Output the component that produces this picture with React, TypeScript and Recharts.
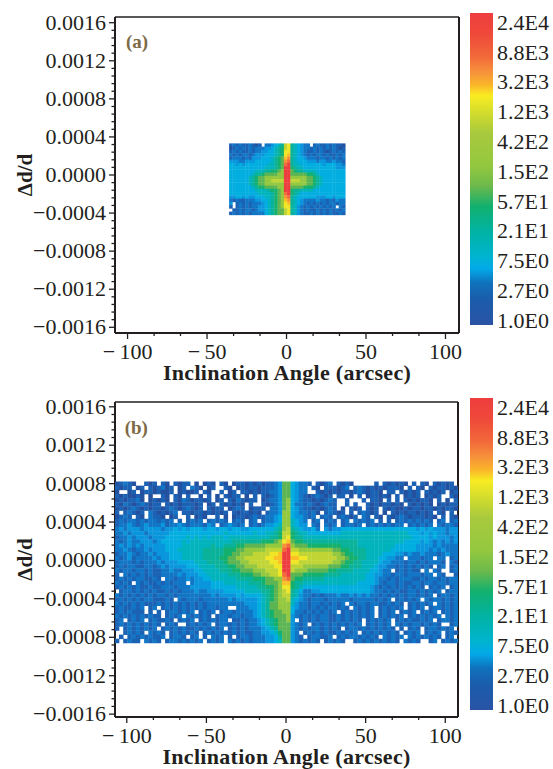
import {
  Bar,
  BarChart,
  ReferenceDot,
  ReferenceLine,
  Scatter,
  ScatterChart,
  XAxis,
  YAxis,
} from "recharts";

const FONT = "'Liberation Serif', serif";
const INK = "#231f20";

// colour per intensity level, 0 = 1.0E0 ... f = 2.4E4
const levelColors = [
  "#23509f", "#1b62b4", "#1276c6", "#0996dc", "#02aee0", "#00b3bc", "#0ab29a", "#14b06e",
  "#5cb552", "#93c83f", "#c0d534", "#f0e626", "#fbc026", "#f6923a", "#f2693a", "#ee3d3e",
];

const scaleOffsets = [0, 0.07, 0.14, 0.19, 0.23, 0.265, 0.31, 0.385, 0.49, 0.555, 0.62, 0.705, 0.78, 0.82, 0.865, 0.92, 1];
const scaleColors = [
  "#ee3d3e", "#ef4a3a", "#f2693a", "#f6923a", "#fab52a", "#f9ec22", "#d9df2b", "#a8c93d", "#93c83f",
  "#6cb94c", "#12b06f", "#00b3a6", "#00b4d0", "#03a9e8", "#0f72bc", "#1b5cab", "#2a53a5",
];
const scaleLabels = ["1.0E0", "2.7E0", "7.5E0", "2.1E1", "5.7E1", "1.5E2", "4.2E2", "1.2E3", "3.2E3", "8.8E3", "2.4E4"];
const scaleTicks = [0, 1, 2, 3, 4, 5, 6, 7, 8, 9, 10];
const scaleBar = [{ name: "scale", span: [-0.17, 10.3] }];

const xMajor = [-100, -50, 0, 50, 100];
const xMinor = [-83.3, -66.7, -33.3, -16.7, 16.7, 33.3, 66.7, 83.3];
const yMajor = [0.0016, 0.0012, 0.0008, 0.0004, 0, -0.0004, -0.0008, -0.0012, -0.0016];
const yMinor = [
  0.00152, 0.00144, 0.00136, 0.00128, 0.00112, 0.00104, 0.00096, 0.00088, 0.00072, 0.00064, 0.00056, 0.00048,
  0.00032, 0.00024, 0.00016, 0.00008, -0.00008, -0.00016, -0.00024, -0.00032, -0.00048, -0.00056, -0.00064, -0.00072,
  -0.00088, -0.00096, -0.00104, -0.00112, -0.00128, -0.00136, -0.00144, -0.00152,
];

// panel (a): 36 columns x 22 rows, top row first, "." = no counts
const panelARows = [
  "1212112101 .223456 ab 654322.121 1212110",
  "0121212122 2334567 ab 6543221212 1212101",
  "1212112122 3344567 bb 6543211212 1012121",
  "2121221233 3444567 bc 6543212122 1211212",
  "1222121333 4445678 cd 6544322212 2121212",
  "3332233344 4445678 de 6544433323 3223221",
  "4434344444 4455678 ef 6554444444 3444332",
  "4444444444 4555678 ff 7655444444 4444333",
  "4444444455 5667789 ff 8766555544 4444444",
  "4444444566 7888899 ff 8888877654 4444444",
  "4444445678 8999999 ff 9999988765 4444444",
  "4444445678 899aaaa ff aaa9988765 4444444",
  "4444445678 8999999 ff 9999988765 4444444",
  "4444444567 7888899 ff 8888777654 4444444",
  "4444444455 5567789 ff 7665555444 4444444",
  "4444444445 5556789 ef 7654444444 4444444",
  "3344343344 4556789 de 6544444433 3443444",
  "2121122233 4456789 cd 6543222232 2121322",
  "3.12121222 3456789 bc 6543212121 2122122",
  "1.12121223 3456789 bb 6532121212 1212.21",
  ".112122123 3456788 ab 6532121121 2121212",
  "1212121222 2456788 ab 6532112121 2121121",
];

// panel (b): 82 columns x 39 rows, top row first, "." = no counts
const panelBRows = [
  "01210..101 .10.1011.0 .010.10.01 1010101123 88 43221.1012 .1010..... 1.101010.1 .10.10101.",
  "1011.01.10 1201.01.21 0.01..10.0 1011011123 88 4322.10.11 1012.12101 0101110.1. 10.1011010",
  "0..01.0110 1001.01001 .10..1.01. 1101011223 88 4322..1010 1011012101 10.11.1010 1.10101.01",
  "1010010.0. .10.10.1.. 0.1.0.1011 .0.1.10123 88 4321012101 .11.0.1.01 1010.1.010 1.0101..10",
  "0101120.01 010.102101 101.01.102 1011.01223 89 4321101012 1..1...1.1 10.1.1.101 0110.1.0.1",
  "1021012101 1.10101110 1.01.10101 0.1..10123 89 4221210121 1..1.1..10 1011010.10 1010.01011",
  "0101210101 1012101210 1.1011.012 1.0111.223 89 4321101012 1.0.101.10 1.10100101 1011010110",
  "1.12101.21 01012.1101 1010101.10 11010.1223 99 4322120.12 101.1.1210 1.0.101011 0101.10.1.",
  "0121.10.21 10.01..1.0 10..1.0.01 1012112234 99 433212.121 .12101.21. 10.1012101 11010.1.10",
  "1212212122 1212.1.121 2.12121.12 1.12.12234 99 5432.12.12 1.12.21212 .1.1.12121 2121.12.12",
  "1223212322 2312232122 2132.12321 2.12123345 99 5433.21.21 2.12212.12 1212122.12 1212.21221",
  "2323332333 3233434344 4344344344 3344444456 9a 6543342.32 3344444444 4444444444 3434333233",
  "2232333233 3334444444 4444445444 4445445567 aa 7655444444 4455555555 5555555544 4343433233",
  "1223233323 3344444545 4545554555 5555555667 ab 7665555555 5555555555 5555555554 4443433323",
  "2123223332 3444445455 5555555566 6666677789 bc 8776666666 6666665555 5555555444 4343232323",
  "2323232333 3344445555 5556556667 7888889999 de 9888777777 7766665555 5555544444 3333232222",
  "2232122323 3344455555 5666667778 899999aaaa ef aa99999999 8877666655 5555444444 3332323222",
  "1223212232 3334445555 5666667788 999aaaabbc ff bbaaaaaaaa 9987766655 5544433232 2322212322",
  "2123122223 2334445555 5666677889 9aaaaabbcc ff ccbbaaaaaa a998776655 5443322.22 2122.22.12",
  "1222121222 3233344445 5566667888 99aaaaabbc ff bbaaaaaaaa 9987766555 5433222122 1212221.21",
  "1212211221 2323333444 5555666778 8999aaaabb ff aaa9999998 8877666555 4332212121 2121.12.12",
  "2122122121 1223223334 4555566677 888999aaab ff a999888887 7666655554 4322.12121 1.2.21..12",
  "1.21212121 1222232333 4455555666 7778899aab ef 8887777766 6655555544 3322122122 2122.21..1",
  "1212122112 1.22122323 3445555556 6667778899 de 8776666655 5555555544 3221212221 1212212122",
  "2121.21211 2121222.23 3334445555 5566678889 cc 7665555555 5555554444 3212212112 2122122122",
  "1212121121 1222122233 3334444445 5555667789 bb 7654444444 4444444443 2121212121 21.1212.12",
  ".122121212 1121212223 2233334444 4555566789 ab 6542233444 4444444443 2212121122 121212.122",
  "2121212121 2212122222 2223233334 3444456789 aa 6532212122 2322323232 2121212122 1212.12212",
  "1212121221 1121.21222 1222222323 3333456789 9a 5432122212 2222122222 1212.12121 2.21221212",
  "2121212111 2121212121 2122222222 2333456889 99 5322122121 212.212212 2112121.12 1212.21212",
  "1211212.12 .121212121 2122122..2 2233456889 99 4322121212 2121.21212 .121212.12 12.1221212",
  "1212111.1. 1.1221212. 1212.12212 2223456788 99 4221212121 2.12121212 .1212.1212 .1212.1212",
  "2121212121 1.1212.212 121.122122 1223456788 89 3212121221 1212121212 .121212.12 121212.212",
  "12.1212.12 1121.1212. 1212122.11 2122345678 89 3.12121221 1212121.12 1212.12121 1212.12212",
  "1212121212 1.121..121 212.122121 2122345678 88 3212.12121 2121212.12 1212.21212 212121..12",
  "1.12121212 .121212112 121212.121 2122234568 88 3212122121 21.1221212 12121.1.12 1.1221212.",
  "..12121.21 21.1212121 .121212121 2112233457 88 32.1212121 121212.121 212121.121 2.1212.121",
  ".1.1212121 12.1221.12 .1.212.1.1 2212223346 88 321.122112 .121221212 1.21212.21 212121.12.",
  "1.1211.212 1.12212121 2.1212.212 1212223345 88 3212121.12 121..12121 212121.212 1..12.1212",
];

type Extent = { left: number; right: number; top: number; bottom: number };

const panelAExtent: Extent = { left: -36, right: 37, top: 0.00033, bottom: -0.00042 };
const panelBExtent: Extent = { left: -107.4, right: 108, top: 0.00082, bottom: -0.00086 };

function buildCells(rows: string[], extent: Extent) {
  const grid = rows.map((r) => r.replace(/ /g, ""));
  const cols = grid[0].length;
  const dx = (extent.right - extent.left) / cols;
  const dy = (extent.top - extent.bottom) / grid.length;
  const cells: { x: number; y: number; level: number }[] = [];
  grid.forEach((row, r) => {
    row.split("").forEach((ch, c) => {
      if (ch === ".") return;
      cells.push({
        x: extent.left + (c + 0.5) * dx,
        y: extent.top - (r + 0.5) * dy,
        level: parseInt(ch, 16),
      });
    });
  });
  return cells;
}

function XTick({ x, y, payload }: any) {
  const major = xMajor.includes(payload.value);
  const v = payload.value;
  return (
    <g>
      <line x1={x} x2={x} y1={y} y2={y + (major ? 6 : 3)} stroke={INK} strokeWidth={1.3} />
      {major && (
        <text x={x} y={y + 26} textAnchor="middle" fontSize={22} fontFamily={FONT} fill={INK}>
          {v < 0 ? `\u2212\u2009${-v}` : v}
        </text>
      )}
    </g>
  );
}

function YTick({ x, y, payload }: any) {
  const major = yMajor.includes(payload.value);
  const v = payload.value;
  return (
    <g>
      <line x1={x - (major ? 6 : 3.5)} x2={x} y1={y} y2={y} stroke={INK} strokeWidth={1.3} />
      {major && (
        <text x={x - 9} y={y + 7} textAnchor="end" fontSize={22} fontFamily={FONT} fill={INK}>
          {v < 0 ? `\u2212${(-v).toFixed(4)}` : v.toFixed(4)}
        </text>
      )}
    </g>
  );
}

function HeatPanel({
  rows,
  extent,
  cellW,
  cellH,
  tag,
  tagX,
  tagY,
  top,
  xDomain,
  yDomain,
  rightMargin,
  plotTop,
  plotHeight,
}: {
  rows: string[];
  extent: Extent;
  cellW: number;
  cellH: number;
  tag: string;
  tagX: number;
  tagY: number;
  top: number;
  xDomain: [number, number];
  yDomain: [number, number];
  rightMargin: number;
  plotTop: number;
  plotHeight: number;
}) {
  const cells = buildCells(rows, extent);
  const renderCell = (props: any) => (
    <rect
      x={props.cx - cellW / 2}
      y={props.cy - cellH / 2}
      width={cellW}
      height={cellH}
      fill={levelColors[props.payload.level]}
    />
  );
  return (
    <ScatterChart
      width={470}
      height={plotTop + plotHeight + 50 + 6}
      margin={{ top: plotTop, right: rightMargin, bottom: 6, left: 0 }}
      style={{ position: "absolute", left: 0, top }}
    >
      <XAxis
        dataKey="x"
        type="number"
        domain={xDomain}
        ticks={[...xMajor, ...xMinor]}
        interval={0}
        allowDataOverflow
        height={50}
        tickSize={0}
        tickMargin={0}
        tickLine={false}
        tick={<XTick />}
        axisLine={{ stroke: INK, strokeWidth: 2 }}
        label={{
          value: "Inclination Angle (arcsec)",
          position: "insideBottom",
          offset: 3,
          fontSize: 22,
          letterSpacing: 0.3,
          fontWeight: 700,
          fontFamily: FONT,
          fill: INK,
        }}
      />
      <YAxis
        dataKey="y"
        type="number"
        domain={yDomain}
        ticks={[...yMajor, ...yMinor]}
        interval={0}
        allowDataOverflow
        width={115}
        tickSize={0}
        tickMargin={0}
        tickLine={false}
        tick={<YTick />}
        axisLine={{ stroke: INK, strokeWidth: 2 }}
        label={{
          value: "\u0394d/d",
          position: "center",
          angle: -90,
          dx: -33,
          fontSize: 21,
          fontWeight: 700,
          fontFamily: FONT,
          fill: INK,
        }}
      />
      <Scatter data={cells} shape={renderCell} isAnimationActive={false} />
      <ReferenceLine x={xDomain[1]} stroke={INK} strokeWidth={2} />
      <ReferenceLine y={yDomain[1]} stroke={INK} strokeWidth={1.5} />
      <ReferenceDot
        x={tagX}
        y={tagY}
        r={0}
        stroke="none"
        label={{
          value: tag,
          position: "center",
          fontSize: 19,
          fontWeight: 700,
          fontFamily: FONT,
          fill: "#7d6a45",
        }}
      />
    </ScatterChart>
  );
}

function ColorScale({ top }: { top: number }) {
  return (
    <BarChart
      width={113}
      height={340}
      data={scaleBar}
      barCategoryGap={0}
      margin={{ top: 13, right: 0, bottom: 15, left: 30 }}
      style={{ position: "absolute", left: 440, top }}
    >
      <defs>
        <linearGradient id={`scale${top}`} x1="0" y1="0" x2="0" y2="1">
          {scaleColors.map((c, i) => (
            <stop key={c} offset={scaleOffsets[i]} stopColor={c} />
          ))}
        </linearGradient>
      </defs>
      <XAxis dataKey="name" hide />
      <YAxis
        orientation="right"
        type="number"
        domain={[-0.17, 10.3]}
        ticks={scaleTicks}
        interval={0}
        width={60}
        tickSize={0}
        tickMargin={4}
        tickLine={false}
        axisLine={false}
        tickFormatter={(v: number) => scaleLabels[v]}
        tick={{ fontSize: 22, fontFamily: FONT, fill: INK }}
      />
      <Bar dataKey="span" fill={`url(#scale${top})`} isAnimationActive={false} />
    </BarChart>
  );
}

export default function App() {
  return (
    <div style={{ position: "absolute", left: 0, top: 0, width: 553, height: 769, background: "#fff", overflow: "hidden" }}>
      <style>{`.recharts-scatter { filter: blur(0.45px); }`}</style>
      <HeatPanel
        rows={panelARows}
        extent={panelAExtent}
        cellW={3.6}
        cellH={3.6}
        tag="(a)"
        tagX={-94}
        tagY={0.00141}
        top={0}
        xDomain={[-107.9, 108.5]}
        yDomain={[-0.00166, 0.00166]}
        rightMargin={11}
        plotTop={17}
        plotHeight={316}
      />
      <ColorScale top={0} />
      <HeatPanel
        rows={panelBRows}
        extent={panelBExtent}
        cellW={4.5}
        cellH={4.5}
        tag="(b)"
        tagX={-94}
        tagY={0.00139}
        top={385}
        xDomain={[-107.4, 108]}
        yDomain={[-0.00163, 0.00165]}
        rightMargin={12}
        plotTop={17}
        plotHeight={315}
      />
      <ColorScale top={385} />
    </div>
  );
}
